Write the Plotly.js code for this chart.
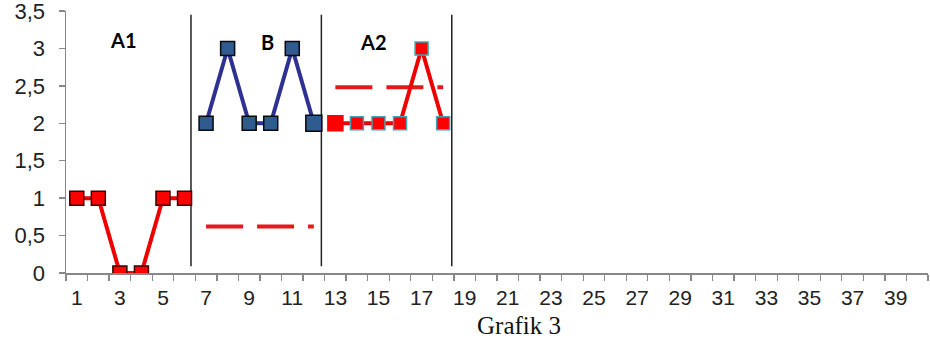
<!DOCTYPE html>
<html>
<head>
<meta charset="utf-8">
<script src="https://cdn.plot.ly/plotly-3.0.1.min.js"></script>
<style>html,body{margin:0;padding:0;background:#fff;}#chart{width:930px;height:339px;}</style>
</head>
<body>
<div id="chart"></div>
<script>
// Sessions and scores
const xA1 = [1, 2, 3, 4, 5, 6];
const yA1 = [1, 1, 0, 0, 1, 1];
const xB = [7, 8, 9, 10, 11, 12];
const yB = [2, 3, 2, 2, 3, 2];
const xA2 = [13, 14, 15, 16, 17, 18];
const yA2 = [2, 2, 2, 2, 3, 2];
// dashed reference lines
const xDashB = [7, 12];
const yDashB = [0.62, 0.62];
const xDashA2 = [13, 18];
const yDashA2 = [2.48, 2.48];
// phase boundaries
const phaseLines = [6.3, 12.35, 18.4];
const phaseLineY = [0.09, 3.45];
// phase labels
const phaseNames = ["A1", "B", "A2"];
const phaseNameX = [3.15, 9.85, 14.75];
const phaseNameY = [3.11, 3.09, 3.09];
// tick labels
const xTickVals = [1,3,5,7,9,11,13,15,17,19,21,23,25,27,29,31,33,35,37,39];
const yTickVals = [0, 0.5, 1, 1.5, 2, 2.5, 3, 3.5];
const xTitle = "Grafik 3";

const red = '#ee0000';
const traces = [
  {x: xDashB, y: yDashB, mode: 'lines', line: {color: '#e31a1c', width: 4, dash: '37px,14px'}, hoverinfo: 'skip'},
  {x: xDashA2, y: yDashA2, mode: 'lines', line: {color: '#e31a1c', width: 4, dash: '37px,14px'}, hoverinfo: 'skip'},
  {x: xA1, y: yA1, mode: 'lines+markers', line: {color: red, width: 4},
   marker: {symbol: 'square', size: 14, color: '#ff0000', opacity: 1, line: {color: '#3a0000', width: 1.5}}},
  {x: xB, y: yB, mode: 'lines+markers', line: {color: '#2e3192', width: 4},
   marker: {symbol: 'square', size: [14,14,14,14,14,16], color: '#2f5b8e', opacity: 1, line: {color: '#0a0a0a', width: 1.5}}},
  {x: xA2, y: yA2, mode: 'lines+markers', line: {color: red, width: 4},
   marker: {symbol: 'square', size: [15,13,13,13,13,13], color: '#ff0000', opacity: 1,
            line: {color: ['#ff0000','#3fa3b8','#3fa3b8','#3fa3b8','#3fa3b8','#3fa3b8'], width: 1.5}}}
];

const shapes = phaseLines.map(v => ({
  type: 'line', xref: 'x', yref: 'y', x0: v, x1: v, y0: phaseLineY[0], y1: phaseLineY[1],
  line: {color: '#222', width: 1.5}, layer: 'below'
}));

const annotations = phaseNames.map((t, i) => ({
  x: phaseNameX[i], y: phaseNameY[i], xref: 'x', yref: 'y', text: '<b>' + t + '</b>',
  showarrow: false, font: {family: 'Lato, "Liberation Sans", sans-serif', size: 20, color: '#000'}
}));
annotations.push({
  x: 0.525, y: -0.2, xref: 'paper', yref: 'paper', text: xTitle, showarrow: false,
  yanchor: 'middle', font: {family: '"Liberation Serif", "Times New Roman", serif', size: 25, color: '#111'}
});

const layout = {
  width: 930, height: 339,
  margin: {l: 66, r: 2, t: 11, b: 66},
  paper_bgcolor: '#fff', plot_bgcolor: '#fff',
  showlegend: false,
  separators: ', ',
  font: {family: '"Liberation Sans", Arial, sans-serif', size: 21, color: '#222'},
  xaxis: {
    range: [0.5, 40.5], tickmode: 'array', tickvals: xTickVals, ticktext: xTickVals.map(String),
    ticks: '', showgrid: false, zeroline: false, showline: true, linecolor: '#888', linewidth: 1.5,
    minor: {tick0: 0.5, dtick: 1, ticks: 'outside', ticklen: 6, tickcolor: '#888', tickwidth: 1.3, showgrid: false},
    tickfont: {size: 21, color: '#222'}, ticklabelstandoff: 5, ticklabeloverflow: 'allow', fixedrange: true
  },
  yaxis: {
    range: [0, 3.5], tickmode: 'array', tickvals: yTickVals,
    ticktext: yTickVals.map(v => String(v).replace('.', ',')),
    ticks: 'outside', ticklen: 6, tickcolor: '#888', tickwidth: 1.3,
    showgrid: false, zeroline: false, showline: true, linecolor: '#888', linewidth: 1.5,
    tickfont: {size: 22, color: '#222'}, ticklabelstandoff: 9, ticklabeloverflow: 'allow', fixedrange: true
  },
  shapes: shapes,
  annotations: annotations
};

Plotly.newPlot('chart', traces, layout, {displayModeBar: false, staticPlot: true});
</script>
</body>
</html>
